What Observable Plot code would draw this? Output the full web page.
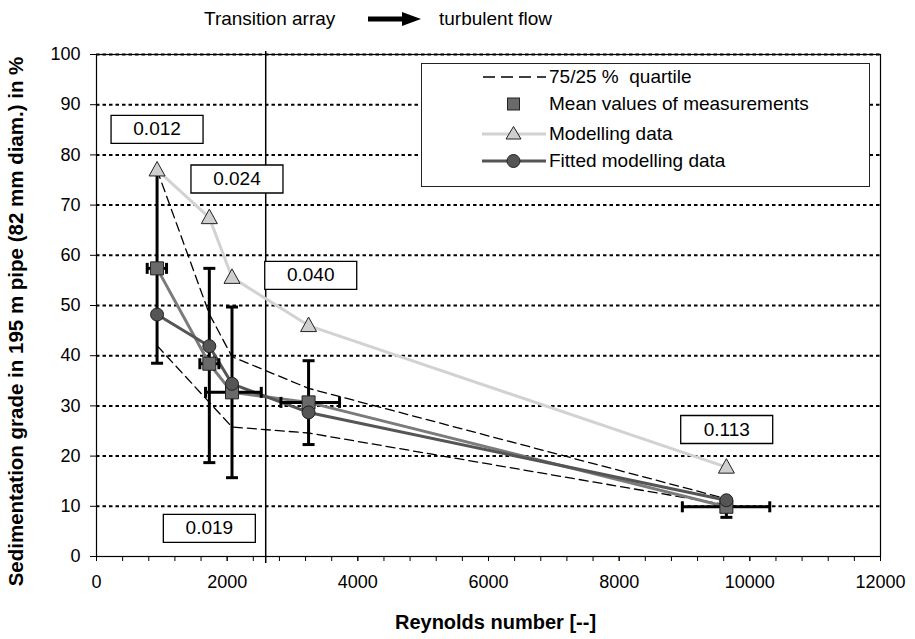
<!DOCTYPE html>
<html>
<head>
<meta charset="utf-8">
<script src="https://cdn.jsdelivr.net/npm/d3@7"></script>
<script src="https://cdn.jsdelivr.net/npm/@observablehq/plot@0.6"></script>
<style>
  body { margin: 0; background: #fff; font-family: "Liberation Sans", Arial, sans-serif; color: #000; }
  #wrap { position: relative; width: 915px; height: 639px; overflow: hidden; background: #fff; }
  #header { position: relative; height: 40px; }
  #header .t { position: absolute; top: 7px; line-height: 24px; font-size: 19px; white-space: nowrap; }
  #header svg { position: absolute; top: 9px; }
  #legend { position: absolute; left: 421px; top: 63px; width: 447px; height: 122px; border: 1.3px solid #222; background: #fff; }
  #legend .row { position: absolute; left: 0; height: 26px; width: 100%; }
  #legend .row svg { position: absolute; left: 60px; top: 0; }
  #legend .row span { position: absolute; left: 127px; top: 0; line-height: 26px; font-size: 19px; white-space: nowrap; }
  svg text { font-family: "Liberation Sans", Arial, sans-serif; }
</style>
</head>
<body>
<div id="wrap">
  <div id="header"></div>
  <div id="chart"></div>
  <div id="legend"></div>
</div>
<script>
// ---------- data ----------
const reynolds        = [927, 1727, 2074, 3246, 9641];
const meanValues      = [57.4, 38.4, 32.7, 30.7, 9.9];
const fittedValues    = [48.2, 41.9, 34.4, 28.7, 11.2];
const modellingValues = [77.0, 67.5, 55.6, 46.0, 17.8];
const errYLow         = [38.5, 18.7, 15.7, 22.3, 7.8];
const errYHigh        = [76.5, 57.4, 49.7, 39.0, 11.0];
const errXLow         = [776, 1582, 1669, 2823, 8967];
const errXHigh        = [1072, 1873, 2522, 3720, 10305];
const quartileUpper   = [77.0, 48.3, 39.8, 33.5, 11.5];
const quartileLower   = [42.0, 30.7, 25.8, 24.6, 10.3];
const labelText       = ["0.012", "0.019", "0.024", "0.040", "0.113"];
const labelRe         = [927, 1727, 2150, 3279, 9646];
const labelGrade      = [85.1, 5.6, 75.2, 56.0, 25.3];
const transitionRe    = [2590];
const yTicks          = [0, 10, 20, 30, 40, 50, 60, 70, 80, 90, 100];
const xTicks          = [0, 2000, 4000, 6000, 8000, 10000, 12000];
const xMinorTicks     = d3.range(0, 12001, 400);
const headerLeft      = "Transition array";
const headerRight     = "turbulent flow";
const xTitle          = "Reynolds number [--]";
const yTitle          = "Sedimentation grade in 195 m pipe (82 mm diam.) in %";
const legendItems     = ["75/25 %\u00a0 quartile", "Mean values of measurements", "Modelling data", "Fitted modelling data"];

// ---------- header ----------
const header = document.getElementById("header");
header.innerHTML =
  `<span class="t" style="left:204px">${headerLeft}</span>` +
  `<svg width="60" height="20" style="left:366px"><rect x="2" y="7.5" width="38" height="5" fill="#000"/><polygon points="36,3 55,10 36,17" fill="#000"/></svg>` +
  `<span class="t" style="left:439px">${headerRight}</span>`;

// ---------- table ----------
const rows = reynolds.map((re, i) => ({
  re, mean: meanValues[i], fitted: fittedValues[i], model: modellingValues[i],
  ylo: errYLow[i], yhi: errYHigh[i], xlo: errXLow[i], xhi: errXHigh[i],
  qu: quartileUpper[i], ql: quartileLower[i]
}));
const labels = labelText.map((t, i) => ({t, re: labelRe[i], g: labelGrade[i]}));

// ---------- symbols ----------
const sq   = {draw(c) { c.rect(-6.5, -6.5, 13, 13); }};
const tri  = {draw(c) { c.moveTo(0, -8.5); c.lineTo(8, 6); c.lineTo(-8, 6); c.closePath(); }};
const hcap = {draw(c) { c.moveTo(-6, 0); c.lineTo(6, 0); }};
const vcap = {draw(c) { c.moveTo(0, -5.5); c.lineTo(0, 5.5); }};
const box  = {draw(c) { c.rect(-46, -14, 92, 28); }};

const chart = Plot.plot({
  width: 915, height: 599,
  marginTop: 14, marginBottom: 83, marginLeft: 96, marginRight: 35,
  x: {domain: [0, 12000]},
  y: {domain: [0, 100]},
  style: {fontFamily: "Liberation Sans, Arial, sans-serif", fontSize: "18px", color: "#000", background: "#fff", overflow: "visible"},
  marks: [
    Plot.ruleY(yTicks.filter(d => d > 0), {stroke: "#000", strokeWidth: 2, strokeDasharray: "3.5,3"}),
    Plot.frame({stroke: "#000", strokeWidth: 1.2}),
    Plot.line(rows, {x: "re", y: "qu", stroke: "#000", strokeWidth: 1.3, strokeDasharray: "9,5"}),
    Plot.line(rows, {x: "re", y: "ql", stroke: "#000", strokeWidth: 1.3, strokeDasharray: "9,5"}),
    Plot.ruleX(transitionRe, {stroke: "#000", strokeWidth: 1.5, insetTop: -3, insetBottom: -7}),
    Plot.line(rows, {x: "re", y: "model", stroke: "#d2d2d2", strokeWidth: 3}),
    Plot.line(rows, {x: "re", y: "mean", stroke: "#7b7b7b", strokeWidth: 3}),
    Plot.line(rows, {x: "re", y: "fitted", stroke: "#555", strokeWidth: 3}),
    Plot.ruleX(rows, {x: "re", y1: "ylo", y2: "yhi", stroke: "#000", strokeWidth: 3}),
    Plot.ruleY(rows, {y: "mean", x1: "xlo", x2: "xhi", stroke: "#000", strokeWidth: 3}),
    Plot.dot(rows, {x: "re", y: "ylo", symbol: hcap, stroke: "#000", strokeWidth: 3, fill: "none"}),
    Plot.dot(rows, {x: "re", y: "yhi", symbol: hcap, stroke: "#000", strokeWidth: 3, fill: "none"}),
    Plot.dot(rows, {x: "xlo", y: "mean", symbol: vcap, stroke: "#000", strokeWidth: 3, fill: "none"}),
    Plot.dot(rows, {x: "xhi", y: "mean", symbol: vcap, stroke: "#000", strokeWidth: 3, fill: "none"}),
    Plot.dot(rows, {x: "re", y: "mean", symbol: sq, fill: "#6a6a6a", stroke: "#222", strokeWidth: 1}),
    Plot.dot(rows, {x: "re", y: "fitted", r: 6.5, fill: "#555", stroke: "#222", strokeWidth: 1}),
    Plot.dot(rows, {x: "re", y: "model", symbol: tri, fill: "#cfcfcf", stroke: "#222", strokeWidth: 1}),
    Plot.dot(labels, {x: "re", y: "g", symbol: box, fill: "#fff", stroke: "#000", strokeWidth: 1.3}),
    Plot.text(labels, {x: "re", y: "g", text: "t", fontSize: 19, fill: "#000"}),
    Plot.axisY(yTicks, {tickSize: 6, tickPadding: 10, fontSize: 18, label: null}),
    Plot.axisX(xMinorTicks, {tickSize: 5, tickFormat: () => "", label: null}),
    Plot.axisX(xTicks, {tickSize: 5, tickPadding: 14, fontSize: 18, label: null, tickFormat: d => String(d)}),
    Plot.text([yTitle], {frameAnchor: "left", textAnchor: "middle", rotate: -90, dx: -80, dy: 16, fontWeight: "bold", fontSize: 20.5, fill: "#000"}),
    Plot.text([xTitle], {frameAnchor: "bottom", textAnchor: "middle", dx: 7, dy: 72, fontWeight: "bold", fontSize: 20, fill: "#000"})
  ]
});
document.getElementById("chart").appendChild(chart);

// ---------- legend ----------
const legend = document.getElementById("legend");
const rowTops = [0, 27, 57, 84];
const legendSymbols = [
  `<line x1="1" y1="13" x2="64" y2="13" stroke="#000" stroke-width="1.3" stroke-dasharray="12,6"/>`,
  `<rect x="25.5" y="7" width="12" height="12" fill="#6a6a6a" stroke="#222"/>`,
  `<line x1="0" y1="13" x2="64" y2="13" stroke="#d2d2d2" stroke-width="3"/><path d="M31.5,5.5 L39,18 L24,18 Z" fill="#cfcfcf" stroke="#222"/>`,
  `<line x1="0" y1="13" x2="64" y2="13" stroke="#555" stroke-width="3"/><circle cx="31.5" cy="13" r="6.5" fill="#555" stroke="#222"/>`
];
legend.innerHTML = legendItems.map((t, i) =>
  `<div class="row" style="top:${rowTops[i]}px"><svg width="64" height="26">${legendSymbols[i]}</svg><span>${t}</span></div>`
).join("");
</script>
</body>
</html>
